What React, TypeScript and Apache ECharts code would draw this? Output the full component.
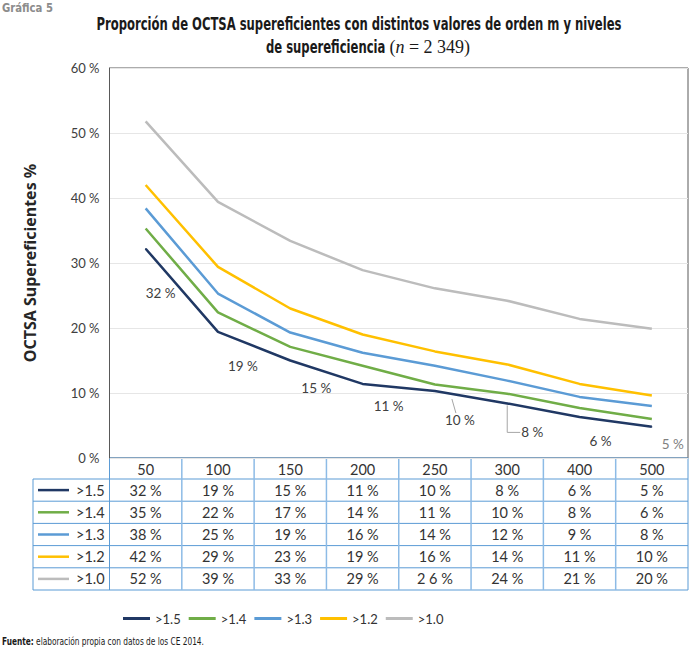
import React, { useEffect, useRef } from "react";
import * as echarts from "echarts";

const categories = ["50", "100", "150", "200", "250", "300", "400", "500"];
const seriesNames = [">1.5", ">1.4", ">1.3", ">1.2", ">1.0"];
const s15 = [32.2, 19.4, 15.0, 11.4, 10.3, 8.4, 6.3, 4.8];
const s14 = [35.3, 22.4, 17.1, 14.2, 11.3, 9.9, 7.7, 6.0];
const s13 = [38.4, 25.3, 19.3, 16.2, 14.2, 11.9, 9.4, 8.0];
const s12 = [42.0, 29.4, 23.0, 19.0, 16.4, 14.4, 11.4, 9.6];
const s10 = [51.8, 39.4, 33.4, 28.9, 26.1, 24.2, 21.4, 19.9];
const t15 = ["32 %", "19 %", "15 %", "11 %", "10 %", "8 %", "6 %", "5 %"];
const t14 = ["35 %", "22 %", "17 %", "14 %", "11 %", "10 %", "8 %", "6 %"];
const t13 = ["38 %", "25 %", "19 %", "16 %", "14 %", "12 %", "9 %", "8 %"];
const t12 = ["42 %", "29 %", "23 %", "19 %", "16 %", "14 %", "11 %", "10 %"];
const t10 = ["52 %", "39 %", "33 %", "29 %", "2 6 %", "24 %", "21 %", "20 %"];
const yTicks = [0, 10, 20, 30, 40, 50, 60];

const seriesValues = [s15, s14, s13, s12, s10];
const tableRows = [t15, t14, t13, t12, t10];
const colors = ["#203864", "#70ad47", "#5b9bd5", "#ffc000", "#bcbcbc"];
// label offsets for the >1.5 series data labels (dx, dy from point)
const labelOffsets = [
  [15, 44], [25, 34], [26, 27], [26, 22], [25, 29], [25, 29], [21, 24], [21, 17],
];

const FONT = "Lato, 'Noto Sans', sans-serif";
const COND = "'DejaVu Sans Condensed', 'Liberation Sans', sans-serif";
const SERIF = "'Liberation Serif', serif";

function measure(text: string, font: string) {
  const c = document.createElement("canvas").getContext("2d");
  if (!c) return 1;
  c.font = font;
  return c.measureText(text).width || 1;
}

export default function App() {
  const ref = useRef<HTMLDivElement>(null);
  useEffect(() => {
    if (!ref.current) return;
    const chart = echarts.init(ref.current, null, { renderer: "svg" });
    const gridLeft = 109.5;
    const gridRight = 688;
    const gridTop = 68;
    const gridBottom = 458;
    const colW = (gridRight - gridLeft) / categories.length;
    const rowTop = 479;
    const rowH = 22.2;
    const tableBottom = rowTop + rowH * seriesNames.length;
    const tblColor = "#5b9bd5";

    const titleLine1 = "Proporción de OCTSA supereficientes con distintos valores de orden m y niveles";
    const titleLine2 = "de supereficiencia ";
    const titleFont = `bold 17px ${COND}`;
    const titleScale = 525 / measure(titleLine1, titleFont);
    const line2W = measure(titleLine2, titleFont) * titleScale;
    const serifW = measure("(n = 2 349)", `18px ${SERIF}`);
    const line2X = 368 - (line2W + serifW) / 2;
    const footText = "Fuente: elaboración propia con datos de los CE 2014.";
    const footScale = 198 / measure(footText, `10px ${COND}`);
    const grafScale = 51 / measure("Gráfica 5", `bold 12px ${COND}`);

    const graphics: any[] = [];
    graphics.push({
      type: "text",
      x: 359,
      y: 24,
      scaleX: titleScale,
      style: { text: titleLine1, font: titleFont, fill: "#1a1a1a", textAlign: "center", textVerticalAlign: "middle" },
    });
    graphics.push({
      type: "text",
      x: line2X,
      y: 47,
      scaleX: titleScale,
      style: { text: titleLine2, font: titleFont, fill: "#1a1a1a", textAlign: "left", textVerticalAlign: "middle" },
    });
    graphics.push({
      type: "text",
      x: line2X + line2W,
      y: 47,
      style: {
        text: "({i|n} = 2 349)",
        font: `18px ${SERIF}`,
        fill: "#1a1a1a",
        textAlign: "left",
        textVerticalAlign: "middle",
        rich: { i: { fontFamily: SERIF, fontSize: 18, fontStyle: "italic", fill: "#1a1a1a" } },
      },
    });
    graphics.push({
      type: "text",
      x: 2,
      y: 2,
      scaleX: grafScale,
      style: { text: "Gráfica 5", font: `bold 12px ${COND}`, fill: "#8c8c8c", textVerticalAlign: "top" },
    });
    graphics.push({
      type: "text",
      x: 2,
      y: 641,
      scaleX: footScale,
      style: {
        text: "{b|Fuente:} elaboración propia con datos de los CE 2014.",
        font: `10px ${COND}`,
        fill: "#1a1a1a",
        textVerticalAlign: "middle",
        rich: { b: { fontFamily: COND, fontSize: 10, fontWeight: "bold", fill: "#1a1a1a" } },
      },
    });
    graphics.push({
      type: "line",
      shape: { x1: gridLeft, y1: gridBottom, x2: gridRight, y2: gridBottom },
      style: { stroke: tblColor, lineWidth: 1 },
    });
    for (let r = 0; r <= seriesNames.length; r++) {
      const y = rowTop + rowH * r;
      graphics.push({
        type: "line",
        shape: { x1: 33, y1: y, x2: gridRight, y2: y },
        style: { stroke: tblColor, lineWidth: 1 },
      });
    }
    graphics.push({
      type: "line",
      shape: { x1: 33, y1: rowTop, x2: 33, y2: tableBottom },
      style: { stroke: tblColor, lineWidth: 1 },
    });
    for (let c = 0; c <= categories.length; c++) {
      const x = gridLeft + colW * c;
      const edge = c === 0 || c === categories.length;
      graphics.push({
        type: "line",
        shape: { x1: x, y1: gridBottom, x2: x, y2: tableBottom },
        style: { stroke: edge ? tblColor : "#8dbbe6", lineWidth: edge ? 1 : 1.5 },
      });
    }
    seriesNames.forEach((name, r) => {
      const cy = rowTop + rowH * (r + 0.5);
      graphics.push({
        type: "line",
        shape: { x1: 38, y1: cy, x2: 69, y2: cy },
        style: { stroke: colors[r], lineWidth: 2.5 },
      });
      graphics.push({
        type: "text",
        x: 76,
        y: cy,
        style: { text: name, font: `14.5px ${FONT}`, fill: "#333", textVerticalAlign: "middle" },
      });
      tableRows[r].forEach((t, c) => {
        graphics.push({
          type: "text",
          x: gridLeft + colW * (c + 0.5),
          y: cy,
          style: { text: t, font: `14.5px ${FONT}`, fill: "#333", textAlign: "center", textVerticalAlign: "middle" },
        });
      });
    });

    const series = seriesNames.map((name, si) => ({
      name,
      type: "line",
      symbol: "circle",
      symbolSize: 1,
      showSymbol: si === 0,
      showAllSymbol: true,
      z: 10 - si,
      lineStyle: { color: colors[si], width: 2.5 },
      itemStyle: { color: colors[si] },
      emphasis: { disabled: true },
      data: seriesValues[si].map((v, i) =>
        si === 0
          ? {
              value: v,
              label: {
                show: true,
                position: "inside",
                offset: labelOffsets[i],
                formatter: t15[i],
                color: i === 7 ? "#808080" : "#404040",
                fontSize: 13.5,
                fontFamily: FONT,
              },
            }
          : v
      ),
    }));

    chart.setOption({
      animation: false,
      grid: {
        left: gridLeft,
        top: gridTop,
        width: gridRight - gridLeft,
        height: gridBottom - gridTop,
        show: true,
        borderColor: "#595959",
        borderWidth: 1,
      },
      xAxis: {
        type: "category",
        data: categories,
        boundaryGap: true,
        axisLine: { show: false },
        axisTick: { show: false },
        axisLabel: { fontSize: 14.5, color: "#333", fontFamily: FONT, margin: 4, interval: 0 },
      },
      yAxis: {
        type: "value",
        min: yTicks[0],
        max: yTicks[yTicks.length - 1],
        interval: 10,
        name: "OCTSA Supereficientes %",
        nameLocation: "middle",
        nameGap: 72,
        nameTextStyle: { fontSize: 16, fontWeight: "bold", color: "#262626", fontFamily: "'Noto Sans', sans-serif" },
        axisLine: { show: true, lineStyle: { color: "#595959" } },
        axisTick: { show: false },
        axisLabel: { formatter: "{value} %", fontSize: 13, color: "#404040", fontFamily: FONT, margin: 10 },
        splitLine: { lineStyle: { color: "#e6e6e6" } },
      },
      legend: {
        left: 118,
        top: 607,
        icon: "rect",
        itemWidth: 27,
        itemHeight: 3,
        itemGap: 8,
        textStyle: { fontSize: 13, color: "#333", fontFamily: FONT },
        data: seriesNames,
      },
      graphic: graphics,
      series,
    });

    const p4 = chart.convertToPixel({ gridIndex: 0 }, [4, s15[4]]) as number[];
    const p5 = chart.convertToPixel({ gridIndex: 0 }, [5, s15[5]]) as number[];
    chart.setOption({
      graphic: [
        ...graphics,
        {
          type: "polyline",
          shape: { points: [[p4[0] + 17, p4[1] + 8], [p4[0] + 21, p4[1] + 22]] },
          style: { stroke: "#a6a6a6", lineWidth: 1, fill: null },
        },
        {
          type: "polyline",
          shape: { points: [[p5[0], p5[1] + 2], [p5[0], p5[1] + 29], [p5[0] + 13, p5[1] + 29]] },
          style: { stroke: "#a6a6a6", lineWidth: 1, fill: null },
        },
      ],
    });
    return () => chart.dispose();
  }, []);
  return (
    <div
      ref={ref}
      style={{ position: "absolute", left: 0, top: 0, width: 696, height: 649 }}
    />
  );
}
